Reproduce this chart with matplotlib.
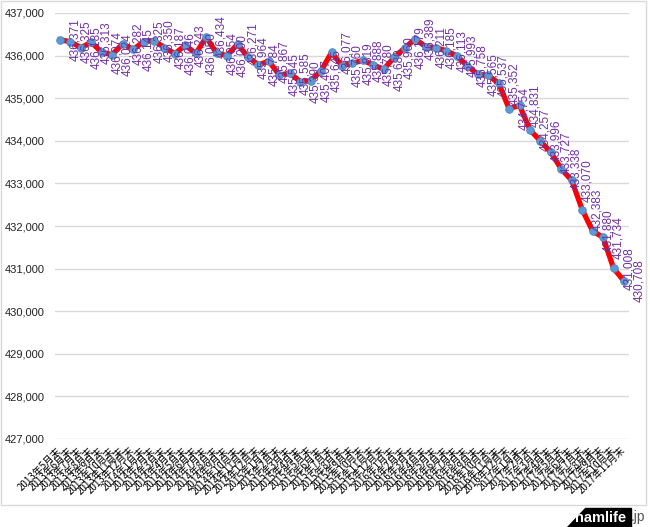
import matplotlib.pyplot as plt
from matplotlib.patches import Polygon, Rectangle
from matplotlib.ticker import FuncFormatter

months = [
    '2013年5月末', '2013年6月末', '2013年7月末', '2013年8月末', '2013年9月末', '2013年10月末',
    '2013年11月末', '2013年12月末', '2014年1月末', '2014年2月末', '2014年3月末', '2014年4月末',
    '2014年5月末', '2014年6月末', '2014年7月末', '2014年8月末', '2014年9月末', '2014年10月末',
    '2014年11月末', '2014年12月末', '2015年1月末', '2015年2月末', '2015年3月末', '2015年4月末',
    '2015年5月末', '2015年6月末', '2015年7月末', '2015年8月末', '2015年9月末', '2015年10月末',
    '2015年11月末', '2015年12月末', '2016年1月末', '2016年2月末', '2016年3月末', '2016年4月末',
    '2016年5月末', '2016年6月末', '2016年7月末', '2016年8月末', '2016年9月末', '2016年10月末',
    '2016年11月末', '2016年12月末', '2017年1月末', '2017年2月末', '2017年3月末', '2017年4月末',
    '2017年5月末', '2017年6月末', '2017年7月末', '2017年8月末', '2017年9月末', '2017年10月末',
    '2017年11月末',
]
stations = [
    436371, 436325, 436185, 436313, 436074, 436024, 436282, 436145, 436325, 436350,
    436187, 436046, 436243, 436050, 436434, 436054, 436000, 436271, 435964, 435784,
    435867, 435545, 435585, 435390, 435407, 435645, 436077, 435760, 435819, 435888,
    435780, 435680, 435960, 436179, 436389, 436211, 436185, 436113, 435993, 435758,
    435565, 435537, 435352, 434754, 434831, 434257, 433996, 433727, 433338, 433070,
    432383, 431880, 431734, 431008, 430708,
]

W, H = 650, 527
fig = plt.figure(figsize=(W / 100, H / 100), dpi=100)
ax = fig.add_axes([54.8 / W, 1 - 439 / H, (629.2 - 54.8) / W, (439 - 13) / H])

x = list(range(len(stations)))
ax.plot(x, stations, color='red', lw=3.8, solid_joinstyle='round', zorder=3)
ax.plot(x, stations, ls='none', marker='o', ms=5.5, mfc='#5B9BD5', mec='#4A86C5',
        mew=0.6, zorder=4)
for xi, v in zip(x, stations):
    ax.annotate(f'{v:,}', (xi, v), xytext=(11, 0), textcoords='offset points',
                rotation=90, ha='center', va='center', color='#7030A0',
                fontsize=8.5, family='Liberation Sans', zorder=5, annotation_clip=False)

ax.set_xlim(-0.5, len(stations) - 0.5)
ax.set_ylim(427000, 437000)
ax.set_yticks(range(427000, 437001, 1000))
ax.yaxis.set_major_formatter(FuncFormatter(lambda v, p: f'{int(v):,}'))
ax.grid(axis='y', color='#D9D9D9', lw=1)
ax.set_axisbelow(True)
for s in ax.spines.values():
    s.set_visible(False)
ax.tick_params(axis='y', length=0, pad=7, labelsize=8, labelcolor='#222222')
ax.set_xticks(x)
ax.set_xticklabels(months, rotation=45, ha='right', va='center', rotation_mode='anchor',
                   fontsize=7, family=['Noto Sans CJK JP'])
ax.tick_params(axis='x', length=0, pad=7)
for t in ax.get_yticklabels():
    t.set_family('Liberation Sans')

# chart border
fig.patches.append(Rectangle((0.5 / W, 1 - 505 / H), 645 / W, 504 / H, transform=fig.transFigure,
                             fill=False, edgecolor='#D9D9D9', lw=1))

# hamlife.jp mark
fig.patches.append(Polygon([[567 / W, 0], [631 / W, 0], [631 / W, 19 / H], [585 / W, 19 / H]],
                           closed=True, transform=fig.transFigure, color='black'))
fig.text(601 / W, 9.5 / H, 'hamlife', color='white', weight='bold', fontsize=10.5,
         ha='center', va='center', family='Liberation Sans')
fig.text(631 / W, 9.5 / H, '.jp', color='#555555', fontsize=10,
         ha='left', va='center', family='Liberation Sans')

fig.savefig('out.png', dpi=100)
